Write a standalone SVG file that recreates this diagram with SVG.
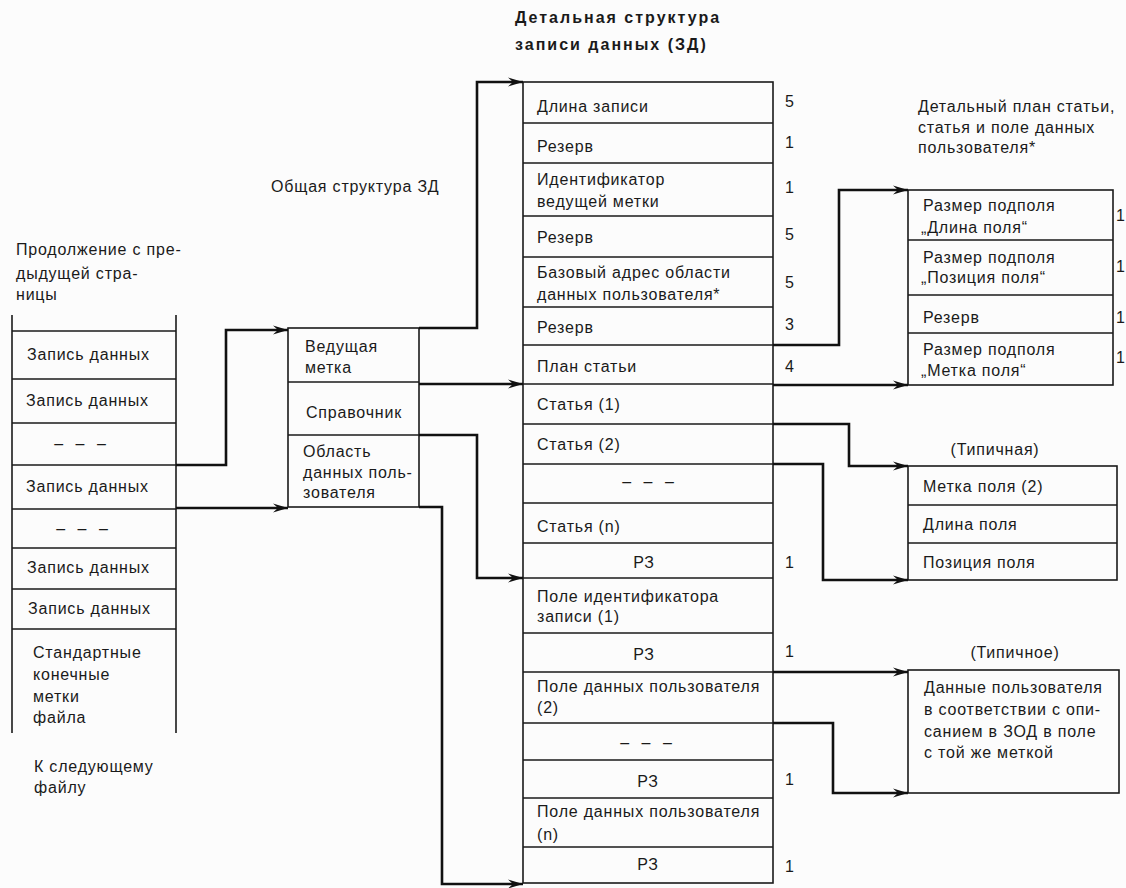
<svg xmlns="http://www.w3.org/2000/svg" width="1126" height="888" viewBox="0 0 1126 888">
<style>
  text { font-family: "Liberation Sans", Arial, sans-serif; font-size: 16px; letter-spacing: 0.8px; fill: #1a1a1a; }
  .b { font-weight: bold; font-size: 16px; letter-spacing: 2px; }
  .c { text-anchor: middle; }
  .d { letter-spacing: 4px; }
  .n { letter-spacing: 0; }
  .box { fill: none; stroke: #1a1a1a; stroke-width: 1.6; }
  .ln { stroke: #1a1a1a; stroke-width: 1.6; fill: none; }
  .con { stroke: #111; stroke-width: 2.6; fill: none; marker-end: url(#ah); }
</style>
<defs>
  <marker id="ah" markerUnits="userSpaceOnUse" viewBox="-1 -6 17 12" markerWidth="17" markerHeight="12" refX="15" refY="0" orient="auto">
    <path d="M0,-4.5 L15,0 L0,4.5 L5,0 z" fill="#111"/>
  </marker>
</defs>
<rect width="1126" height="888" fill="#fcfcfc"/>

<g id="title-main">
  <text class="b" x="515" y="23">Детальная структура</text>
  <text class="b" x="515" y="50">записи данных (ЗД)</text>
</g>
<g id="label-general">
  <text x="271" y="192">Общая структура ЗД</text>
</g>
<g id="label-continue">
  <text x="16" y="255">Продолжение с пре-</text>
  <text x="16" y="279">дыдущей стра-</text>
  <text x="16" y="300">ницы</text>
</g>
<g id="label-next">
  <text x="34" y="772">К следующему</text>
  <text x="34" y="793">файлу</text>
</g>

<g id="file-stack">
  <line class="ln" x1="12" y1="315" x2="12" y2="733"/>
  <line class="ln" x1="176" y1="315" x2="176" y2="733"/>
  <line class="ln" x1="12" y1="331" x2="176" y2="331"/>
  <line class="ln" x1="12" y1="379" x2="176" y2="379"/>
  <line class="ln" x1="12" y1="423" x2="176" y2="423"/>
  <line class="ln" x1="12" y1="465" x2="176" y2="465"/>
  <line class="ln" x1="12" y1="509" x2="176" y2="509"/>
  <line class="ln" x1="12" y1="548" x2="176" y2="548"/>
  <line class="ln" x1="12" y1="589" x2="176" y2="589"/>
  <line class="ln" x1="12" y1="629" x2="176" y2="629"/>
  <text x="27" y="360">Запись данных</text>
  <text x="26" y="406">Запись данных</text>
  <text class="c d" x="82" y="449">– – –</text>
  <text x="26" y="492">Запись данных</text>
  <text class="c d" x="84" y="534">– – –</text>
  <text x="27" y="573">Запись данных</text>
  <text x="28" y="614">Запись данных</text>
  <text x="33" y="658">Стандартные</text>
  <text x="33" y="680">конечные</text>
  <text x="33" y="702">метки</text>
  <text x="33" y="723">файла</text>
</g>

<g id="general-structure">
  <rect class="box" x="288" y="328" width="131" height="179"/>
  <line class="ln" x1="288" y1="382" x2="419" y2="382"/>
  <line class="ln" x1="288" y1="435" x2="419" y2="435"/>
  <text x="305" y="352">Ведущая</text>
  <text x="305" y="373">метка</text>
  <text x="306" y="418">Справочник</text>
  <text x="303" y="457">Область</text>
  <text x="303" y="478">данных поль-</text>
  <text x="303" y="498">зователя</text>
</g>

<g id="record-detail">
  <rect class="box" x="523" y="82" width="250" height="801"/>
  <line class="ln" x1="523" y1="123" x2="773" y2="123"/>
  <line class="ln" x1="523" y1="163" x2="773" y2="163"/>
  <line class="ln" x1="523" y1="216" x2="773" y2="216"/>
  <line class="ln" x1="523" y1="257" x2="773" y2="257"/>
  <line class="ln" x1="523" y1="307" x2="773" y2="307"/>
  <line class="ln" x1="523" y1="345" x2="773" y2="345"/>
  <line class="ln" x1="523" y1="384" x2="773" y2="384"/>
  <line class="ln" x1="523" y1="424" x2="773" y2="424"/>
  <line class="ln" x1="523" y1="464" x2="773" y2="464"/>
  <line class="ln" x1="523" y1="503" x2="773" y2="503"/>
  <line class="ln" x1="523" y1="543" x2="773" y2="543"/>
  <line class="ln" x1="523" y1="578" x2="773" y2="578"/>
  <line class="ln" x1="523" y1="633" x2="773" y2="633"/>
  <line class="ln" x1="523" y1="672" x2="773" y2="672"/>
  <line class="ln" x1="523" y1="723" x2="773" y2="723"/>
  <line class="ln" x1="523" y1="760" x2="773" y2="760"/>
  <line class="ln" x1="523" y1="798" x2="773" y2="798"/>
  <line class="ln" x1="523" y1="847" x2="773" y2="847"/>
  <text x="537" y="112">Длина записи</text>
  <text x="537" y="152">Резерв</text>
  <text x="537" y="185">Идентификатор</text>
  <text x="537" y="207">ведущей метки</text>
  <text x="537" y="243">Резерв</text>
  <text x="537" y="278">Базовый адрес области</text>
  <text x="537" y="300">данных пользователя*</text>
  <text x="537" y="333">Резерв</text>
  <text x="537" y="372">План статьи</text>
  <text x="537" y="410">Статья  (1)</text>
  <text x="537" y="450">Статья  (2)</text>
  <text class="c d" x="650" y="487">– – –</text>
  <text x="537" y="532">Статья  (n)</text>
  <text class="c" x="644" y="568">РЗ</text>
  <text x="537" y="602">Поле идентификатора</text>
  <text x="537" y="622">записи  (1)</text>
  <text class="c" x="644" y="660">РЗ</text>
  <text x="537" y="692">Поле данных пользователя</text>
  <text x="537" y="713">(2)</text>
  <text class="c d" x="648" y="748">– – –</text>
  <text class="c" x="648" y="787">РЗ</text>
  <text x="537" y="817">Поле данных пользователя</text>
  <text x="537" y="840">(n)</text>
  <text class="c" x="648" y="870">РЗ</text>
</g>

<g id="record-sizes">
  <text x="785" y="107">5</text>
  <text x="785" y="148">1</text>
  <text x="785" y="193">1</text>
  <text x="785" y="240">5</text>
  <text x="785" y="288">5</text>
  <text x="785" y="330">3</text>
  <text x="785" y="372">4</text>
  <text x="785" y="568">1</text>
  <text x="785" y="657">1</text>
  <text x="785" y="785">1</text>
  <text x="785" y="872">1</text>
</g>

<g id="label-plan-detail">
  <text x="918" y="112">Детальный план статьи,</text>
  <text x="918" y="133">статья и поле данных</text>
  <text x="918" y="153">пользователя*</text>
</g>

<g id="plan-detail">
  <rect class="box" x="908" y="190" width="205" height="195"/>
  <line class="ln" x1="908" y1="240" x2="1113" y2="240"/>
  <line class="ln" x1="908" y1="295" x2="1113" y2="295"/>
  <line class="ln" x1="908" y1="333" x2="1113" y2="333"/>
  <text x="923" y="211">Размер подполя</text>
  <text x="921" y="233">„Длина поля“</text>
  <text x="923" y="263">Размер подполя</text>
  <text x="921" y="283">„Позиция поля“</text>
  <text x="923" y="323">Резерв</text>
  <text x="923" y="355">Размер подполя</text>
  <text x="921" y="376">„Метка поля“</text>
  <text class="n" x="1116" y="221">1</text>
  <text class="n" x="1116" y="272">1</text>
  <text class="n" x="1116" y="323">1</text>
  <text class="n" x="1116" y="363">1</text>
</g>

<g id="entry-typical">
  <text class="c" x="995" y="455">(Типичная)</text>
  <rect class="box" x="908" y="466" width="209" height="114"/>
  <line class="ln" x1="908" y1="505" x2="1117" y2="505"/>
  <line class="ln" x1="908" y1="543" x2="1117" y2="543"/>
  <text x="923" y="492">Метка поля  (2)</text>
  <text x="923" y="530">Длина поля</text>
  <text x="923" y="568">Позиция поля</text>
</g>

<g id="field-typical">
  <text class="c" x="1015" y="658">(Типичное)</text>
  <rect class="box" x="908" y="670" width="211" height="123"/>
  <text x="924" y="693">Данные пользователя</text>
  <text x="924" y="715">в соответствии с опи-</text>
  <text x="924" y="737">санием в ЗОД в поле</text>
  <text x="924" y="758">с той же меткой</text>
</g>

<g id="connectors">
  <path class="con" d="M176,465 H226 V330 H288"/>
  <path class="con" d="M176,508 H288"/>
  <path class="con" d="M419,328 H477 V82 H523"/>
  <path class="con" d="M419,384 H523"/>
  <path class="con" d="M419,435 H477 V578 H523"/>
  <path class="con" d="M419,507 H442 V884 H523"/>
  <path class="con" d="M773,345 H839 V190 H908"/>
  <path class="con" d="M773,385 H908"/>
  <path class="con" d="M773,424 H849 V466 H908"/>
  <path class="con" d="M773,464 H823 V580 H908"/>
  <path class="con" d="M773,672 H908"/>
  <path class="con" d="M773,723 H833 V793 H908"/>
</g>
</svg>
